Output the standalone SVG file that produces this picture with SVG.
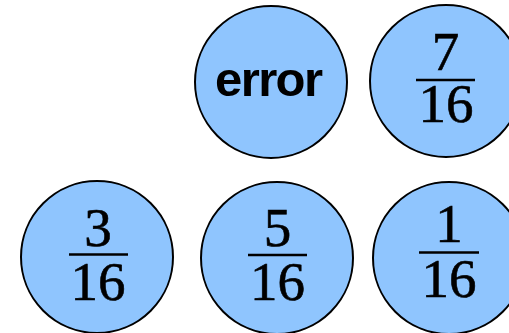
<svg xmlns="http://www.w3.org/2000/svg" width="509" height="333" viewBox="0 0 509 333">
<style>
.node circle{fill:#8fc5fe;stroke:#000;stroke-width:2}
.frac{font-family:"Liberation Serif","Times New Roman",serif;font-size:55px;fill:#000;stroke:#000;stroke-width:0.6;text-anchor:middle}
.bar{stroke:#000;stroke-width:2.6}
.lbl{font-family:"Liberation Sans",Arial,sans-serif;font-weight:bold;font-size:49px;fill:#000;text-anchor:middle}
</style>
<rect width="509" height="333" fill="#fff"/>
<g id="connectors"></g>
<g id="n-error" class="node">
<circle cx="271" cy="82" r="76"/>
<text class="lbl" x="269" y="96" textLength="108" lengthAdjust="spacing">error</text>
</g>
<g id="n-7-16" class="node">
<circle cx="446" cy="81" r="76"/>
<text class="frac" x="445.5" y="70">7</text>
<line class="bar" x1="416" y1="80" x2="475" y2="80"/>
<text class="frac" x="446" y="122">16</text>
</g>
<g id="n-3-16" class="node">
<circle cx="97" cy="257" r="76"/>
<text class="frac" x="98" y="246">3</text>
<line class="bar" x1="69" y1="254.5" x2="128" y2="254.5"/>
<text class="frac" x="98" y="300">16</text>
</g>
<g id="n-5-16" class="node">
<circle cx="277" cy="258" r="76"/>
<text class="frac" x="277.5" y="246">5</text>
<line class="bar" x1="248" y1="255" x2="307" y2="255"/>
<text class="frac" x="277.5" y="300">16</text>
</g>
<g id="n-1-16" class="node">
<circle cx="449" cy="258" r="76"/>
<text class="frac" x="449" y="242">1</text>
<line class="bar" x1="419" y1="252.5" x2="479" y2="252.5"/>
<text class="frac" x="449" y="297">16</text>
</g>
</svg>
